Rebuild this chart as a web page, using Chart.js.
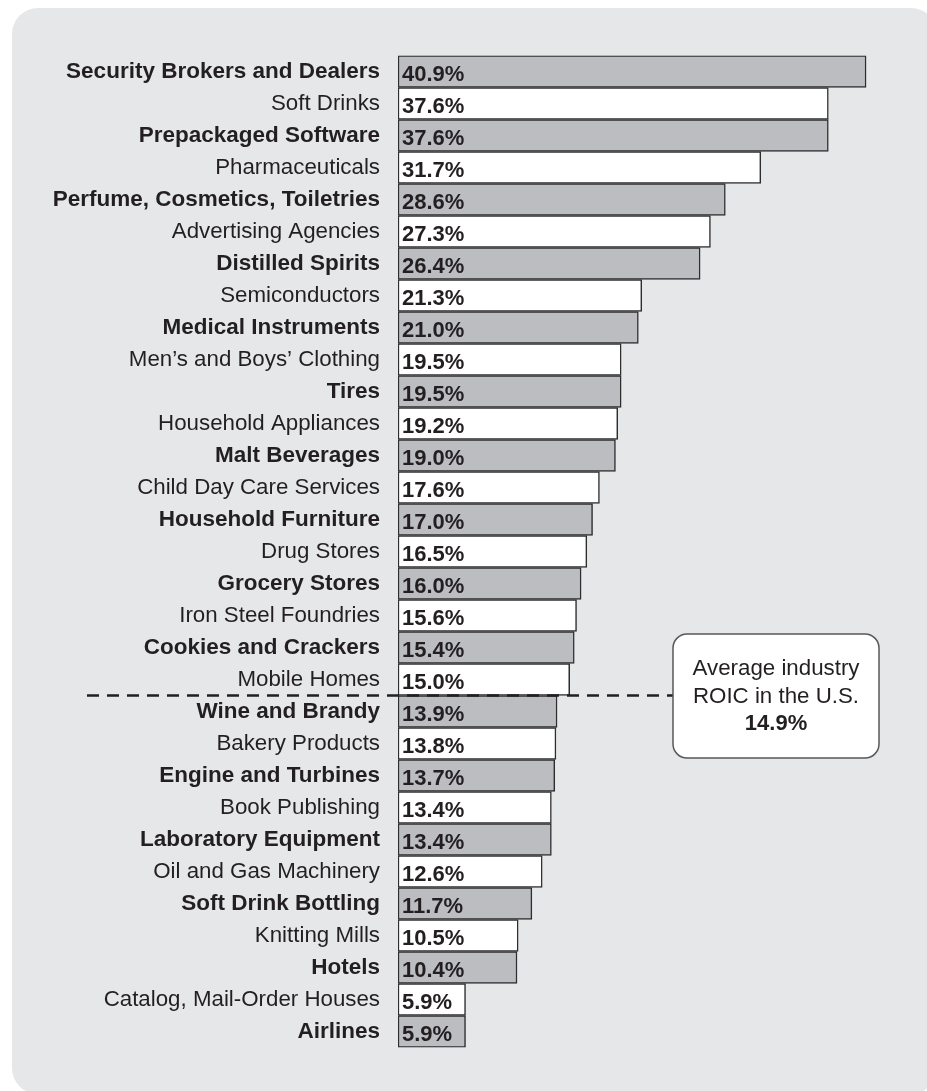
<!DOCTYPE html>
<html>
<head>
<meta charset="utf-8">
<script src="https://cdn.jsdelivr.net/npm/chart.js@4/dist/chart.umd.min.js"></script>
<style>
  html, body { margin: 0; padding: 0; background: #ffffff; }
  #wrap { position: relative; width: 927px; height: 1091px; }
</style>
</head>
<body>
<div id="wrap"><canvas id="c" width="927" height="1091"></canvas></div>
<script>
const categories = [
  "Security Brokers and Dealers", "Soft Drinks", "Prepackaged Software", "Pharmaceuticals",
  "Perfume, Cosmetics, Toiletries", "Advertising Agencies", "Distilled Spirits", "Semiconductors",
  "Medical Instruments", "Men\u2019s and Boys\u2019 Clothing", "Tires", "Household Appliances",
  "Malt Beverages", "Child Day Care Services", "Household Furniture", "Drug Stores",
  "Grocery Stores", "Iron Steel Foundries", "Cookies and Crackers", "Mobile Homes",
  "Wine and Brandy", "Bakery Products", "Engine and Turbines", "Book Publishing",
  "Laboratory Equipment", "Oil and Gas Machinery", "Soft Drink Bottling", "Knitting Mills",
  "Hotels", "Catalog, Mail-Order Houses", "Airlines"
];
const roicValues = [
  40.9, 37.6, 37.6, 31.7, 28.6, 27.3, 26.4, 21.3, 21.0, 19.5, 19.5, 19.2, 19.0, 17.6, 17.0, 16.5,
  16.0, 15.6, 15.4, 15.0, 13.9, 13.8, 13.7, 13.4, 13.4, 12.6, 11.7, 10.5, 10.4, 5.9, 5.9
];
const averageValue = 14.9;
const averageLabelLines = ["Average industry", "ROIC in the U.S."];

const FONT = "'Liberation Sans', Arial, Helvetica, sans-serif";
const TEXT = "#231f20";
const GRAY = "#bcbdc0";

const bgPlugin = {
  id: 'bg',
  beforeDraw(chart) {
    const ctx = chart.ctx;
    ctx.save();
    ctx.fillStyle = '#e6e7e8';
    ctx.beginPath();
    ctx.roundRect(12, 8, 925, 1086, 26);
    ctx.fill();
    ctx.restore();
  }
};

const overlayPlugin = {
  id: 'overlay',
  afterDatasetsDraw(chart) {
    const ctx = chart.ctx;
    const meta = chart.getDatasetMeta(0);
    ctx.save();
    ctx.font = "bold 22px " + FONT;
    ctx.fillStyle = TEXT;
    ctx.textAlign = 'left';
    ctx.textBaseline = 'middle';
    meta.data.forEach((bar, i) => {
      ctx.fillText(roicValues[i].toFixed(1) + '%', bar.base + 4, bar.y + 3);
    });

    // average line between last category above the average and first below
    const ys = chart.scales.y;
    let idx = roicValues.findIndex(v => v < averageValue);
    const yLine = (ys.getPixelForValue(idx - 1) + ys.getPixelForValue(idx)) / 2;
    const boxL = 673, boxR = 879, boxT = 634, boxB = 758;
    ctx.strokeStyle = TEXT;
    ctx.lineWidth = 2.5;
    ctx.setLineDash([12, 8]);
    ctx.beginPath();
    ctx.moveTo(87, yLine);
    ctx.lineTo(boxL, yLine);
    ctx.stroke();
    ctx.setLineDash([]);

    // callout box
    ctx.fillStyle = '#ffffff';
    ctx.strokeStyle = '#58585a';
    ctx.lineWidth = 1.5;
    ctx.beginPath();
    ctx.roundRect(boxL, boxT, boxR - boxL, boxB - boxT, 14);
    ctx.fill();
    ctx.stroke();

    const cx = (boxL + boxR) / 2;
    ctx.fillStyle = TEXT;
    ctx.textAlign = 'center';
    ctx.textBaseline = 'alphabetic';
    ctx.font = "22.3px " + FONT;
    ctx.fillText(averageLabelLines[0], cx, 675);
    ctx.fillText(averageLabelLines[1], cx, 702.5);
    ctx.font = "bold 22px " + FONT;
    ctx.fillText(averageValue.toFixed(1) + '%', cx, 730);
    ctx.restore();
  }
};

new Chart(document.getElementById('c'), {
  type: 'bar',
  data: {
    labels: categories,
    datasets: [{
      data: roicValues,
      backgroundColor: roicValues.map((v, i) => i % 2 === 0 ? GRAY : '#ffffff'),
      borderColor: '#2e2e2e',
      borderWidth: 1.5,
      borderSkipped: false,
      categoryPercentage: 1,
      barPercentage: 1
    }]
  },
  options: {
    indexAxis: 'y',
    responsive: false,
    animation: false,
    devicePixelRatio: 1,
    layout: { padding: { left: 0, top: 55.5, right: 14, bottom: 43.5 } },
    plugins: { legend: { display: false }, tooltip: { enabled: false } },
    scales: {
      x: { display: false, min: 0, max: 45 },
      y: {
        grid: { display: false, drawTicks: false },
        border: { display: false },
        afterFit(scale) { scale.width = 398; },
        ticks: {
          padding: 18,
          color: TEXT,
          font: (ctx) => ctx.index % 2 === 0
            ? { family: FONT, size: 22.5, weight: 'bold' }
            : { family: FONT, size: 22.3, weight: 'normal' }
        }
      }
    }
  },
  plugins: [bgPlugin, overlayPlugin]
});
</script>
</body>
</html>
